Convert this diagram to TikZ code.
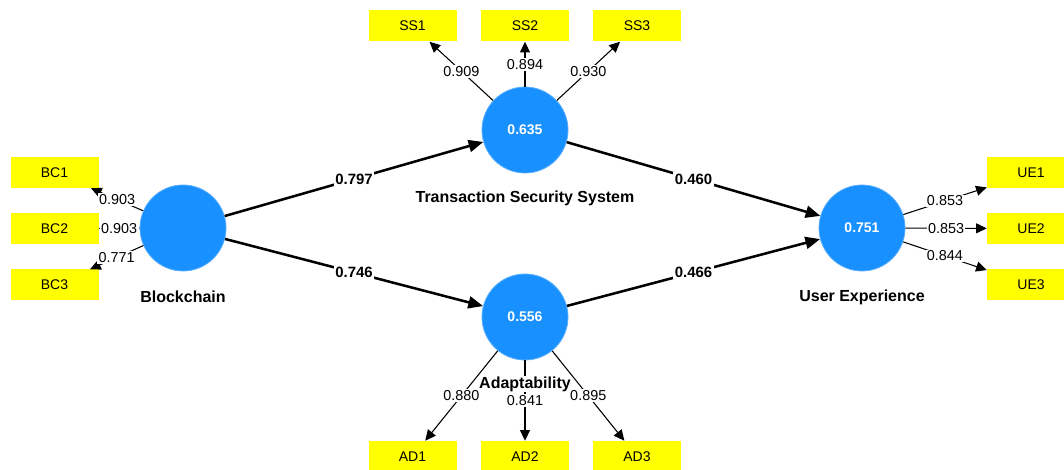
\documentclass[tikz,border=0pt]{standalone}
\usepackage{fontspec}
\setmainfont{Liberation Sans}
\usetikzlibrary{arrows.meta}
\definecolor{lvblue}{RGB}{24,144,255}
\definecolor{lvring}{RGB}{90,175,255}
\definecolor{indyellow}{RGB}{255,255,0}
\begin{document}
\begin{tikzpicture}[x=0.75pt,y=-0.75pt,
 lv/.style={circle,fill=lvblue,draw=lvring,line width=0.6pt,minimum size=64.5pt,inner sep=0pt,text=white,font=\fontsize{10.5}{12}\selectfont\bfseries},
 mv/.style={rectangle,fill=indyellow,minimum width=66pt,minimum height=23.25pt,inner sep=0pt,font=\fontsize{10.5}{12}\selectfont},
 lvname/.style={fill=white,inner sep=0.5pt,font=\fontsize{12}{14}\selectfont\bfseries},
 ld/.style={draw=black,line width=0.8pt,-{Triangle[length=8pt,width=7.5pt]}},
 pc/.style={draw=black,line width=1.9pt,-{Triangle[length=11pt,width=9pt]}},
 ldl/.style={fill=white,inner sep=1pt,font=\fontsize{10.8}{12}\selectfont},
 pcl/.style={fill=white,inner sep=1pt,font=\fontsize{11.2}{13}\selectfont\bfseries}]
\clip (0,0) rectangle (1064,470);
\useasboundingbox (0,0) rectangle (1064,470);
% latent variables
\node[lv] (bc) at (183,228) {};
\node[lv] (tss) at (525,130) {0.635};
\node[lv] (ad) at (525,317) {0.556};
\node[lv] (ue) at (862,228) {0.751};
% indicators
\node[mv] (bc1) at (54.5,172.5) {BC1};
\node[mv] (bc2) at (54.5,228.5) {BC2};
\node[mv] (bc3) at (54.5,285) {BC3};
\node[mv] (ss1) at (412.5,26) {SS1};
\node[mv] (ss2) at (525,26) {SS2};
\node[mv] (ss3) at (637,26) {SS3};
\node[mv] (ad1) at (412.5,456.5) {AD1};
\node[mv] (ad2) at (525,456.5) {AD2};
\node[mv] (ad3) at (637,456.5) {AD3};
\node[mv] (ue1) at (1031,173) {UE1};
\node[mv] (ue2) at (1031,228.5) {UE2};
\node[mv] (ue3) at (1031,285) {UE3};
% outer loadings (lines)
\foreach \a/\b in {bc/bc1,bc/bc2,bc/bc3,tss/ss1,tss/ss2,tss/ss3,ad/ad1,ad/ad2,ad/ad3,ue/ue1,ue/ue2,ue/ue3}
  \draw[ld] (\a) -- (\b);
% path coefficients
\draw[pc] (bc) -- node[pcl]{0.797} (tss);
\draw[pc] (bc) -- node[pcl]{0.746} (ad);
\draw[pc] (tss) -- node[pcl]{0.460} (ue);
\draw[pc] (ad) -- node[pcl]{0.466} (ue);
% construct names
\node[lvname] (nbc) at (183,297) {Blockchain};
\node[lvname] (ntss) at (525,198) {Transaction Security System};
\node[lvname] (nad) at (525,384) {Adaptability};
\node[lvname] (nue) at (862,297) {User Experience};
% loading values
\foreach \a/\b/\v in {bc/bc1/0.903,bc/bc2/0.903,bc/bc3/0.771,tss/ss1/0.909,tss/ss2/0.894,tss/ss3/0.930,ad/ad1/0.880,ad/ad2/0.841,ad/ad3/0.895,ue/ue1/0.853,ue/ue2/0.853,ue/ue3/0.844}
  \path (\a) -- node[ldl]{\v} (\b);
\end{tikzpicture}
\end{document}
